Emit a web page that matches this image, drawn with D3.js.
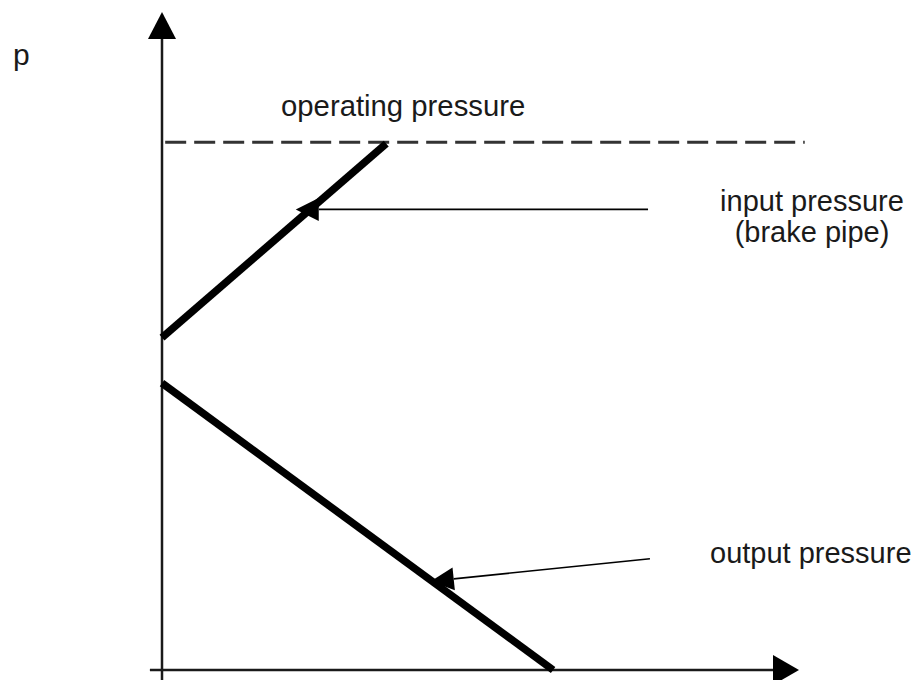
<!DOCTYPE html>
<html>
<head>
<meta charset="utf-8">
<script src="https://cdn.jsdelivr.net/npm/d3@7"></script>
<style>
  html, body { margin: 0; padding: 0; background: #fff; }
  svg { display: block; }
  text { font-family: "Liberation Sans", Arial, Helvetica, sans-serif; fill: #1a1a1a; }
</style>
</head>
<body>
<svg id="chart" width="917" height="680"></svg>
<script>
// Pressure curves (time t, pressure p), in relative units
const inputPressure  = [{ t: 0, p: 50.5 }, { t: 35.2, p: 80 }];
const outputPressure = [{ t: 0, p: 43.6 }, { t: 61.4, p: 0 }];
const operatingPressure = 80.2;
const operatingExtent = [0.5, 100.9];

// Callouts: arrow tip on a curve, tail at the label side
const calloutTips  = [{ t: 21.0, p: 70.0 }, { t: 42.2, p: 13.5 }];
const calloutTails = [{ t: 76.3, p: 70.0 }, { t: 76.6, p: 16.9 }];

// Text labels
const axisLabel = "p";
const operatingLabel = "operating pressure";
const inputLabel = ["input pressure", "(brake pipe)"];
const outputLabel = "output pressure";

const svg = d3.select("#chart");

const x = d3.scaleLinear().domain([0, 100]).range([162, 799]);
const y = d3.scaleLinear().domain([0, 100]).range([670, 12]);

const line = d3.line().x(d => x(d.t)).y(d => y(d.p));

// Axes with arrowheads
svg.append("line")
  .attr("x1", x(0)).attr("x2", x(0))
  .attr("y1", 680).attr("y2", y(96))
  .attr("stroke", "#1a1a1a").attr("stroke-width", 2.5);
svg.append("line")
  .attr("x1", x(-1.9)).attr("x2", x(96))
  .attr("y1", y(0)).attr("y2", y(0))
  .attr("stroke", "#1a1a1a").attr("stroke-width", 2.5);

const yTip = [x(0), y(100)];
svg.append("path")
  .attr("d", `M${yTip[0]},${yTip[1]} L${yTip[0] + 14},${yTip[1] + 27} L${yTip[0] - 14},${yTip[1] + 27} Z`)
  .attr("fill", "#000");
const xTip = [x(100), y(0)];
svg.append("path")
  .attr("d", `M${xTip[0]},${xTip[1]} L${xTip[0] - 26},${xTip[1] - 15} L${xTip[0] - 26},${xTip[1] + 15} Z`)
  .attr("fill", "#000");

// Operating pressure level
svg.append("line")
  .attr("x1", x(operatingExtent[0])).attr("x2", x(operatingExtent[1]))
  .attr("y1", y(operatingPressure)).attr("y2", y(operatingPressure))
  .attr("stroke", "#333").attr("stroke-width", 3)
  .attr("stroke-dasharray", "21,8");

// Pressure curves
[inputPressure, outputPressure].forEach(series => {
  svg.append("path")
    .datum(series)
    .attr("d", line)
    .attr("fill", "none")
    .attr("stroke", "#000")
    .attr("stroke-width", 7.5)
    .attr("stroke-linecap", "butt");
});

// Callout arrows
calloutTips.forEach((tip, i) => {
  const tail = calloutTails[i];
  const x1 = x(tail.t), y1 = y(tail.p), x2 = x(tip.t), y2 = y(tip.p);
  const ang = Math.atan2(y2 - y1, x2 - x1);
  const len = 23, half = 11.5;
  const bx = x2 - len * Math.cos(ang), by = y2 - len * Math.sin(ang);
  svg.append("line")
    .attr("x1", x1).attr("y1", y1).attr("x2", bx).attr("y2", by)
    .attr("stroke", "#000").attr("stroke-width", 1.6);
  const nx = -Math.sin(ang), ny = Math.cos(ang);
  svg.append("path")
    .attr("d", `M${x2},${y2} L${bx + nx * half},${by + ny * half} L${bx - nx * half},${by - ny * half} Z`)
    .attr("fill", "#000");
});

// Labels
svg.append("text").attr("x", 13).attr("y", 65)
  .attr("font-size", 30).text(axisLabel);
svg.append("text").attr("x", 281).attr("y", 116)
  .attr("font-size", 29.3).text(operatingLabel);
svg.append("text").attr("x", 812).attr("y", 211)
  .attr("text-anchor", "middle").attr("font-size", 29)
  .selectAll("tspan").data(inputLabel).join("tspan")
  .attr("x", 812).attr("dy", (d, i) => i === 0 ? 0 : 31)
  .text(d => d);
svg.append("text").attr("x", 710).attr("y", 563)
  .attr("font-size", 29).text(outputLabel);
</script>
</body>
</html>
